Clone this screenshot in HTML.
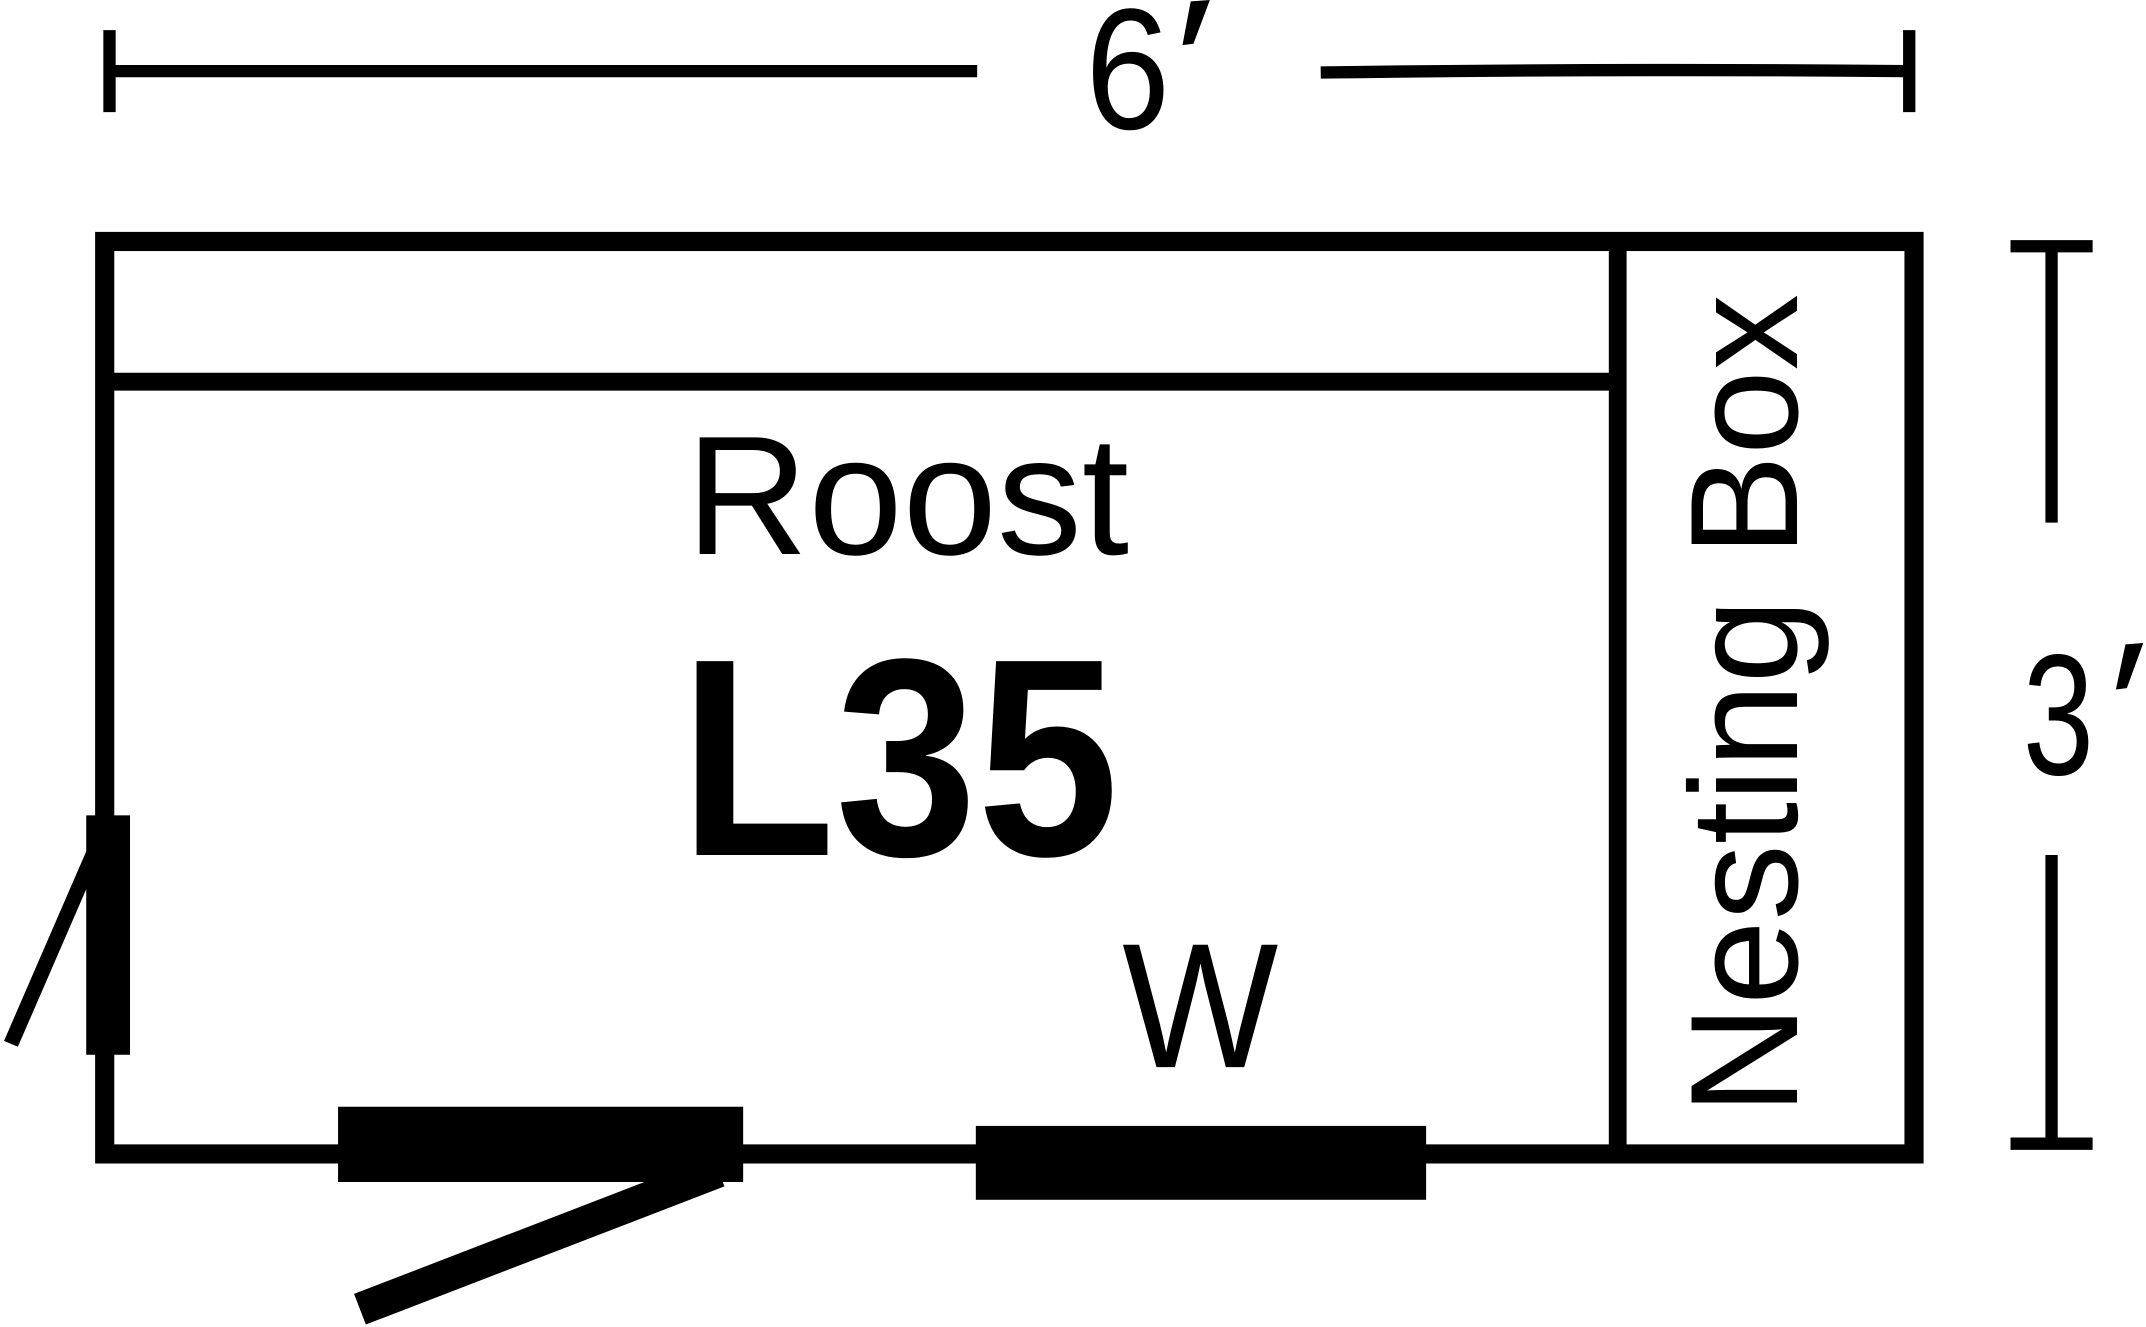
<!DOCTYPE html>
<html><head><style>html,body{margin:0;padding:0;background:#fff}svg{display:block}</style></head>
<body>
<svg width="2146" height="1327" viewBox="0 0 1568 970" xmlns="http://www.w3.org/2000/svg" preserveAspectRatio="none">
<rect width="1568" height="970" fill="#fff"/>
<g stroke="#000" fill="none">
<line x1="80" y1="22" x2="80" y2="82" stroke-width="9"/>
<line x1="80" y1="52" x2="714" y2="52" stroke-width="9"/>
<path d="M965 53 Q1180 50 1395 52" stroke-width="9"/>
<line x1="1395" y1="22" x2="1395" y2="82" stroke-width="9"/>
<rect x="76.5" y="176.5" width="1322" height="667" stroke-width="14"/>
<line x1="76" y1="279" x2="1182" y2="279" stroke-width="13"/>
<line x1="1182" y1="176" x2="1182" y2="843" stroke-width="13"/>
<line x1="1469" y1="180" x2="1529" y2="180" stroke-width="9"/>
<line x1="1499" y1="180" x2="1499" y2="382" stroke-width="9"/>
<line x1="1499" y1="625" x2="1499" y2="836" stroke-width="9"/>
<line x1="1469" y1="836" x2="1529" y2="836" stroke-width="9"/>
<line x1="70" y1="620" x2="8" y2="763" stroke-width="11"/>
<line x1="525" y1="856" x2="263" y2="957" stroke-width="24"/>
</g>
<rect x="63" y="596" width="32" height="175" fill="#000"/>
<rect x="247" y="809" width="296" height="55" fill="#000"/>
<rect x="713" y="823" width="329" height="54" fill="#000"/>
<g fill="#000">
<polygon points="870,1 884,0 872,32 864,33"/>
<polygon points="1553,471 1566,470 1554,503 1546,504"/>
</g>
<g font-family="Liberation Sans, sans-serif" fill="#000" text-anchor="middle">
<text x="824" y="94" font-size="126" textLength="62" lengthAdjust="spacingAndGlyphs">6</text>
<text x="1504" y="566" font-size="126" textLength="52" lengthAdjust="spacingAndGlyphs">3</text>
<text x="663" y="405" font-size="124">Roost</text>
<text x="657" y="625" font-size="206" font-weight="bold" textLength="321" lengthAdjust="spacingAndGlyphs">L35</text>
<text x="877" y="780" font-size="130" textLength="114" lengthAdjust="spacingAndGlyphs">W</text>
<text transform="translate(1313,515) rotate(-90)" x="0" y="0" font-size="112" textLength="600" lengthAdjust="spacingAndGlyphs">Nesting Box</text>
</g>
</svg>
</body></html>
